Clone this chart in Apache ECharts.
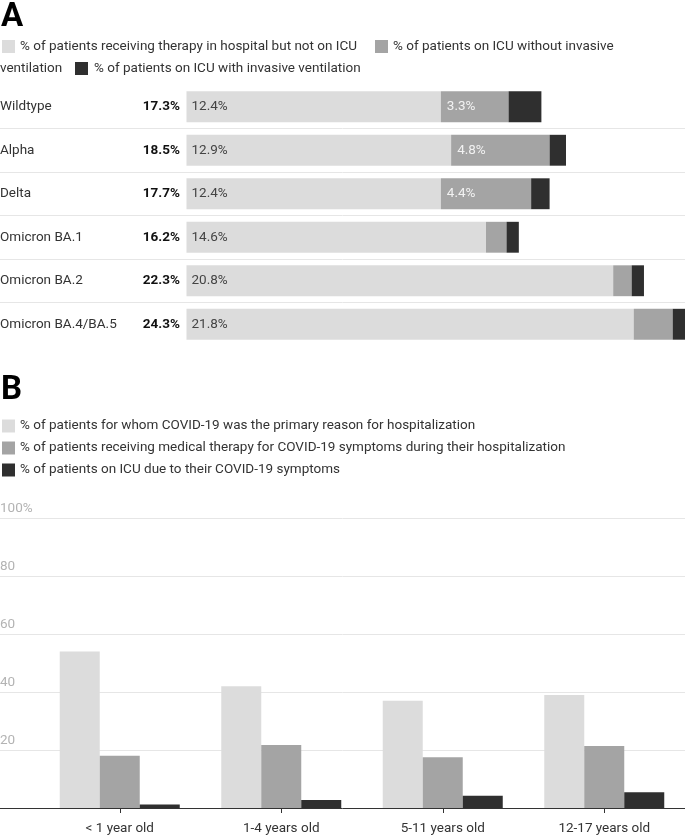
<!DOCTYPE html>
<html>
<head>
<meta charset="utf-8">
<script src="https://cdn.jsdelivr.net/npm/echarts@6/dist/echarts.min.js"></script>
<style>
html,body{margin:0;padding:0;background:#fff}
#main{width:685px;height:837px}
</style>
</head>
<body>
<div id="main"></div>
<script>
// panel A - variants
var variants = ['Wildtype', 'Alpha', 'Delta', 'Omicron BA.1', 'Omicron BA.2', 'Omicron BA.4/BA.5'];
var totals = [17.3, 18.5, 17.7, 16.2, 22.3, 24.3];
var hospNoIcu = [12.4, 12.9, 12.4, 14.6, 20.8, 21.8];
var icuNoVent = [3.3, 4.8, 4.4, 1.0, 0.9, 1.9];
var icuVent = [1.6, 0.8, 0.9, 0.6, 0.6, 0.6];
var namesA = [
  '% of patients receiving therapy in hospital but not on ICU',
  '% of patients on ICU without invasive ventilation',
  '% of patients on ICU with invasive ventilation'
];

// panel B - age groups
var ageGroups = ['< 1 year old', '1-4 years old', '5-11 years old', '12-17 years old'];
var primaryReason = [54, 42, 37, 39];
var medTherapy = [18, 21.7, 17.5, 21.4];
var icuCovid = [1.2, 2.8, 4.2, 5.4];
var namesB = [
  '% of patients for whom COVID-19 was the primary reason for hospitalization',
  '% of patients receiving medical therapy for COVID-19 symptoms during their hospitalization',
  '% of patients on ICU due to their COVID-19 symptoms'
];

var colors = ['#dcdcdc', '#a4a4a4', '#2f2f2f'];
var font = 'Roboto';
var fs = 13.5;

var chart = echarts.init(document.getElementById('main'));

function pct(v) { return v.toFixed(1) + '%'; }

// legend A wraps mid item, so draw it by hand
var lf = fs + 'px Roboto';
var legendA = [
  {type: 'rect', shape: {x: 2, y: 40, width: 13, height: 13}, style: {fill: colors[0]}},
  {type: 'text', x: 20, y: 47, style: {text: namesA[0], fill: '#333', font: lf, verticalAlign: 'middle'}},
  {type: 'rect', shape: {x: 375, y: 40, width: 13, height: 13}, style: {fill: colors[1]}},
  {type: 'text', x: 393, y: 47, style: {text: '% of patients on ICU without invasive', fill: '#333', font: lf, verticalAlign: 'middle'}},
  {type: 'text', x: 0, y: 68.5, style: {text: 'ventilation', fill: '#333', font: lf, verticalAlign: 'middle'}},
  {type: 'rect', shape: {x: 75, y: 62, width: 13, height: 13}, style: {fill: colors[2]}},
  {type: 'text', x: 94, y: 68.5, style: {text: namesA[2], fill: '#333', font: lf, verticalAlign: 'middle'}}
];

chart.setOption({
  animation: false,
  textStyle: {fontFamily: font},
  title: [
    {text: 'A', left: 1, top: 1, padding: 0, textStyle: {fontSize: 33, fontWeight: 'bold', color: '#000', fontFamily: font}},
    {text: 'B', left: 1, top: 374, padding: 0, textStyle: {fontSize: 33, fontWeight: 'bold', color: '#000', fontFamily: font}}
  ],
  graphic: legendA,
  legend: {
    data: namesB,
    orient: 'vertical',
    left: 2,
    top: 419,
    padding: 0,
    icon: 'rect',
    itemWidth: 13,
    itemHeight: 13,
    itemGap: 8,
    selectedMode: false,
    textStyle: {fontSize: fs, color: '#333', fontFamily: font}
  },
  grid: [
    {left: 0, right: 0, top: 85, height: 261, outerBoundsMode: 'none'},
    {left: 0, right: 0, top: 518, bottom: 29, outerBoundsMode: 'none'},
    {left: 39, right: 0, top: 518, bottom: 29, outerBoundsMode: 'none'}
  ],
  xAxis: [
    {type: 'value', gridIndex: 0, min: -9.09, max: 24.3, show: false},
    {type: 'category', gridIndex: 1, data: [''],
      axisLine: {lineStyle: {color: '#333', width: 1}},
      axisTick: {show: false}, axisLabel: {show: false}},
    {type: 'category', gridIndex: 2, data: ageGroups,
      axisLine: {show: false},
      axisTick: {show: true, alignWithLabel: true, length: 5, lineStyle: {color: '#333'}},
      axisLabel: {color: '#333', fontSize: fs, margin: 14, fontFamily: font}}
  ],
  yAxis: [
    {type: 'category', gridIndex: 0, data: variants, inverse: true,
      axisLine: {show: false}, axisTick: {show: false},
      splitLine: {show: true, showMinLine: false, showMaxLine: false, lineStyle: {color: '#e6e6e6'}},
      axisLabel: {
        inside: true, margin: 0,
        formatter: function (v, i) { return '{n|' + v + '}{t|' + pct(totals[i]) + '}'; },
        rich: {
          n: {width: 130, fontSize: fs, color: '#333', fontFamily: font},
          t: {width: 50, align: 'right', fontSize: fs, fontWeight: 'bold', color: '#111', fontFamily: font}
        }
      }},
    {type: 'value', gridIndex: 1, min: 0, max: 100, interval: 20,
      axisLine: {show: false}, axisTick: {show: false},
      splitLine: {lineStyle: {color: '#e6e6e6'}},
      axisLabel: {
        inside: true, margin: 0, verticalAlign: 'bottom', padding: [0, 0, 2, 0],
        color: '#b3b3b3', fontSize: fs, fontFamily: font,
        formatter: function (v) { return v === 0 ? '' : (v === 100 ? '100%' : v); }
      }},
    {type: 'value', gridIndex: 2, min: 0, max: 100, show: false}
  ],
  series: [
    {type: 'bar', name: namesA[0], xAxisIndex: 0, yAxisIndex: 0, stack: 'a',
      barCategoryGap: '29%', data: hospNoIcu, itemStyle: {color: colors[0]},
      label: {show: true, position: 'insideLeft', distance: 5, color: '#444', fontSize: fs,
        formatter: function (p) { return pct(p.value); }}},
    {type: 'bar', name: namesA[1], xAxisIndex: 0, yAxisIndex: 0, stack: 'a',
      barCategoryGap: '29%', data: icuNoVent, itemStyle: {color: colors[1]},
      label: {show: true, position: 'insideLeft', distance: 6, color: '#f2f2f2', fontSize: fs,
        formatter: function (p) { return p.value >= 3 ? pct(p.value) : ''; }}},
    {type: 'bar', name: namesA[2], xAxisIndex: 0, yAxisIndex: 0, stack: 'a',
      barCategoryGap: '29%', data: icuVent, itemStyle: {color: colors[2]}},

    {type: 'bar', name: namesB[0], xAxisIndex: 2, yAxisIndex: 2,
      barWidth: 40, barGap: '0%', data: primaryReason, itemStyle: {color: colors[0]}},
    {type: 'bar', name: namesB[1], xAxisIndex: 2, yAxisIndex: 2,
      barWidth: 40, barGap: '0%', data: medTherapy, itemStyle: {color: colors[1]}},
    {type: 'bar', name: namesB[2], xAxisIndex: 2, yAxisIndex: 2,
      barWidth: 40, barGap: '0%', data: icuCovid, itemStyle: {color: colors[2]}}
  ]
});
</script>
</body>
</html>
